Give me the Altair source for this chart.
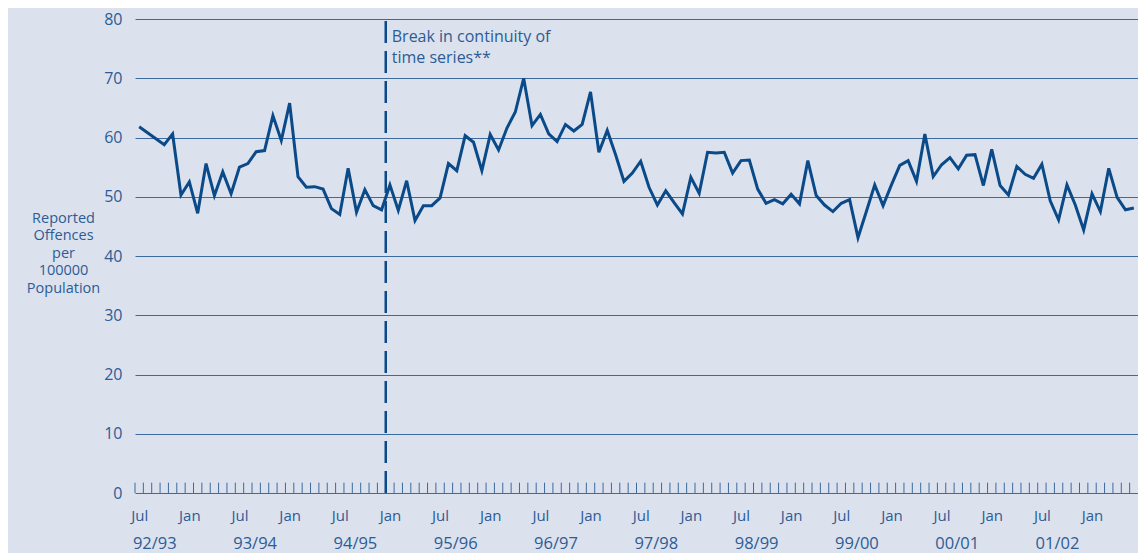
import altair as alt
import pandas as pd

# Monthly reported offences per 100000 population, Jul 1992 - Jun 2002
rates = [
    61.8, 60.8, 59.8, 58.8, 60.6, 50.3, 52.5, 47.2, 55.6, 50.2, 54.2, 50.5,
    55.0, 55.6, 57.6, 57.8, 63.7, 59.5, 65.8, 53.4, 51.6, 51.7, 51.3, 48.0,
    47.0, 54.8, 47.4, 51.2, 48.5, 47.8, 52.0, 47.7, 52.7, 46.0, 48.5, 48.5,
    49.8, 55.6, 54.4, 60.3, 59.2, 54.4, 60.5, 57.9, 61.6, 64.3, 70.0, 62.0,
    63.9, 60.6, 59.3, 62.2, 61.1, 62.2, 67.7, 57.5, 61.2, 57.1, 52.6, 54.0,
    56.0, 51.6, 48.6, 51.0, 49.0, 47.1, 53.3, 50.6, 57.5, 57.4, 57.5, 54.0,
    56.1, 56.2, 51.3, 48.9, 49.5, 48.8, 50.4, 48.8, 56.1, 50.2, 48.6, 47.5,
    48.9, 49.5, 43.1, 47.5, 52.0, 48.5, 52.0, 55.3, 56.1, 52.6, 60.6, 53.4,
    55.4, 56.6, 54.7, 57.0, 57.1, 51.9, 58.0, 51.9, 50.3, 55.1, 53.8, 53.1,
    55.5, 49.3, 46.1, 52.0, 48.6, 44.4, 50.5, 47.5, 54.8, 49.9, 47.8, 48.1,
]
n_months = len(rates)
month_names = ["Jul", "Jan"] * 10
fin_years = ["92/93", "93/94", "94/95", "95/96", "96/97",
             "97/98", "98/99", "99/00", "00/01", "01/02"]
y_ticks = [0, 10, 20, 30, 40, 50, 60, 70, 80]
break_month = 30          # Jan 1995 (months since Jul 1992)
break_text = ["Break in continuity of", "time series**"]
y_title = ["Reported", "Offences", "per", "100000", "Population"]

BG = "#DCE1EE"
LINE = "#0B4A88"
GRID = "#3D6A9F"
TXT = "#2C5C94"
FONT = "Open Sans"

series = pd.DataFrame({"month": [i + 0.5 for i in range(n_months)], "rate": rates})
ticks = pd.DataFrame({"month": list(range(n_months)), "rate": [0] * n_months,
                      "rate_top": [1.75] * n_months})
brk = pd.DataFrame({"month": [break_month], "rate": [0], "rate_top": [80]})
note = pd.DataFrame({"month": [break_month], "label": [break_text]})
fy = pd.DataFrame({"month": [i * 12 - 0.25 for i in range(len(fin_years))],
                   "label": fin_years})

label_pos = [i * 6 + 0.5 for i in range(len(month_names))]

xscale = alt.Scale(domain=[0, n_months], nice=False, zero=False)
yscale = alt.Scale(domain=[0, 80], nice=False)

xaxis = alt.Axis(values=label_pos,
                 labelExpr=f"{month_names}[floor(datum.value / 6)]",
                 tickSize=0, domain=False, grid=False, title=None,
                 labelPadding=15, labelFont=FONT, labelFontSize=15,
                 labelColor=TXT, labelBaseline="top")
yaxis = alt.Axis(values=y_ticks, grid=True, gridColor=GRID, gridWidth=1,
                 gridOpacity=1, tickSize=0, domain=False, labelPadding=13,
                 labelFont=FONT, labelFontSize=16, labelColor=TXT,
                 title=y_title, titleAngle=0, titleX=-72, titleY=199,
                 titleAlign="center", titleBaseline="middle",
                 titleFont=FONT, titleFontSize=14.5, titleFontWeight="normal",
                 titleColor=TXT, titleLineHeight=17.5)

X = alt.X("month:Q", scale=xscale, axis=xaxis)
Y = alt.Y("rate:Q", scale=yscale, axis=yaxis)

line = alt.Chart(series).mark_line(color=LINE, strokeWidth=3, strokeJoin="miter").encode(x=X, y=Y)

tick_marks = alt.Chart(ticks).mark_rule(color=GRID, strokeWidth=1).encode(
    x=X, y=Y, y2="rate_top:Q")

break_rule = alt.Chart(brk).mark_rule(color=LINE, strokeWidth=2.5,
                                      strokeDash=[22, 8]).encode(
    x=X, y=Y, y2="rate_top:Q")

note_text = alt.Chart(note).mark_text(align="left", baseline="alphabetic", dx=6,
                                      font=FONT, fontSize=16, color=TXT,
                                      lineHeight=21).encode(
    x=X, y=alt.value(22.5), text="label")

fy_text = alt.Chart(fy).mark_text(align="left", baseline="middle", font=FONT,
                                  fontSize=16.5, color=TXT).encode(
    x=X, y=alt.value(525), text="label:N")

chart = alt.layer(line, tick_marks, break_rule, note_text, fy_text).properties(
    width=1003, height=474,
    autosize=alt.AutoSizeParams(type="none"),
    padding={"left": 127, "top": 11, "right": 0, "bottom": 60},
    background=BG,
).configure_view(stroke=None)

chart.save("out.html", embed_options={"renderer": "svg", "actions": False})
